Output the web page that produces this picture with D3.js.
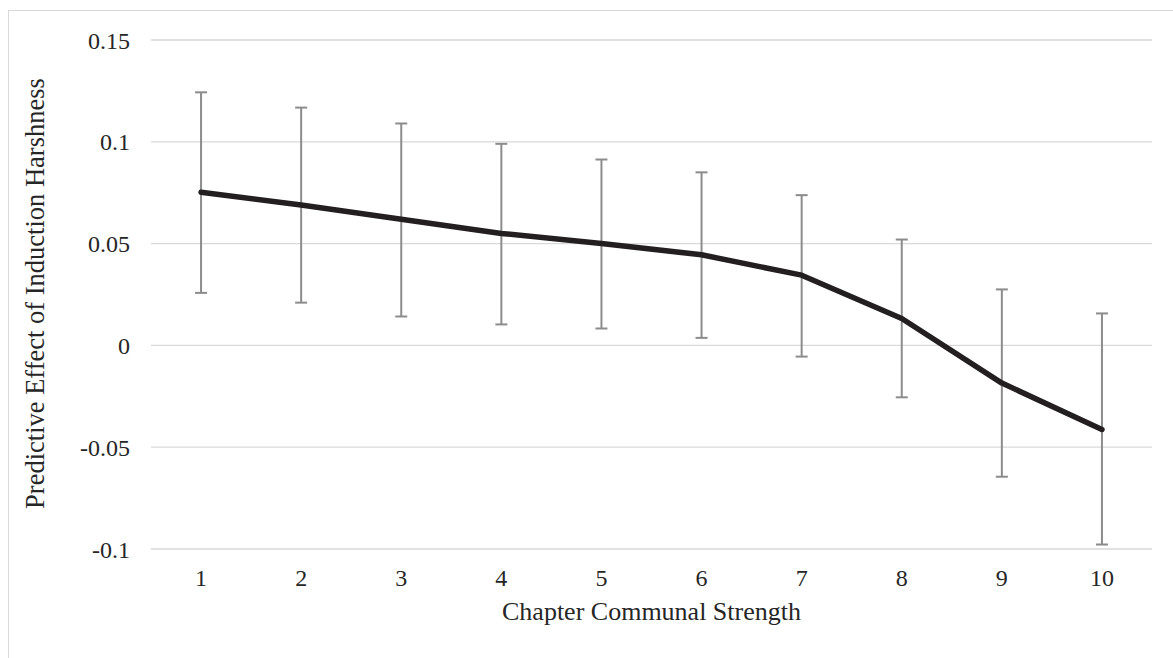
<!DOCTYPE html>
<html>
<head>
<meta charset="utf-8">
<script src="https://cdn.jsdelivr.net/npm/d3@7"></script>
<style>
  body { margin: 0; background: #fff; }
  text { font-family: "Times New Roman", "Liberation Serif", serif; fill: #262626; }
</style>
</head>
<body>
<svg id="chart" width="1173" height="658"></svg>
<script>
// chapter communal strength 1..10
var categories = ["1", "2", "3", "4", "5", "6", "7", "8", "9", "10"];
var effect = [0.0752, 0.0690, 0.0620, 0.0550, 0.0500, 0.0445, 0.0345, 0.0132, -0.0185, -0.0413];
var upper  = [0.1243, 0.1168, 0.1090, 0.0990, 0.0913, 0.0850, 0.0738, 0.0520, 0.0275, 0.0157];
var lower  = [0.0258, 0.0210, 0.0142, 0.0103, 0.0083, 0.0037, -0.0055, -0.0255, -0.0645, -0.0978];
var yTicks = [-0.1, -0.05, 0, 0.05, 0.1, 0.15];
var yTickLabels = ["-0.1", "-0.05", "0", "0.05", "0.1", "0.15"];

var margin = {top: 40, right: 21, bottom: 109, left: 151};
var width = 1173 - margin.left - margin.right,
    height = 658 - margin.top - margin.bottom;

var svg = d3.select("#chart");

// outer chart frame
svg.append("rect")
  .attr("x", 8.5).attr("y", 10.5)
  .attr("width", 1180).attr("height", 700)
  .attr("fill", "none")
  .attr("stroke", "#d9d9d9")
  .attr("stroke-width", 1);

var g = svg.append("g")
  .attr("transform", "translate(" + margin.left + "," + margin.top + ")");

var x = d3.scaleBand().domain(categories).range([0, width]);
var y = d3.scaleLinear().domain([-0.1, 0.15]).range([height, 0]);

//gridlines
g.append("g")
  .selectAll("line")
  .data(yTicks)
  .enter().append("line")
    .attr("x1", 0)
    .attr("x2", width)
    .attr("y1", function(d) { return y(d); })
    .attr("y2", function(d) { return y(d); })
    .attr("stroke", "#d9d9d9")
    .attr("stroke-width", 1.3);

// y axis labels
var yAxis = g.append("g")
  .call(d3.axisLeft(y).tickValues(yTicks).tickSize(0).tickPadding(21)
    .tickFormat(function(d, i) { return yTickLabels[i]; }));
yAxis.select(".domain").remove();
yAxis.attr("font-family", null);
yAxis.selectAll("text")
  .style("font-family", "'Times New Roman', 'Liberation Serif', serif")
  .style("font-size", "24px")
  .attr("fill", "#262626")
  .attr("dy", "0.34em");

// x axis labels
var xAxis = g.append("g")
  .attr("transform", "translate(0," + height + ")")
  .call(d3.axisBottom(x).tickSize(0).tickPadding(20));
xAxis.select(".domain").remove();
xAxis.attr("font-family", null);
xAxis.selectAll("text")
  .style("font-family", "'Times New Roman', 'Liberation Serif', serif")
  .style("font-size", "24px")
  .attr("fill", "#262626");

var cx = function(i) { return x(categories[i]) + x.bandwidth() / 2; };

// error bars
var bars = g.append("g").selectAll("g")
  .data(effect.map(function(d, i) { return {i: i, hi: upper[i], lo: lower[i]}; }))
  .enter().append("g")
    .attr("stroke", "#8c8c8c")
    .attr("stroke-width", 2);

bars.append("line")
  .attr("x1", function(d) { return cx(d.i); })
  .attr("x2", function(d) { return cx(d.i); })
  .attr("y1", function(d) { return y(d.hi); })
  .attr("y2", function(d) { return y(d.lo); });
bars.append("line")
  .attr("x1", function(d) { return cx(d.i) - 6; })
  .attr("x2", function(d) { return cx(d.i) + 6; })
  .attr("y1", function(d) { return y(d.hi); })
  .attr("y2", function(d) { return y(d.hi); });
bars.append("line")
  .attr("x1", function(d) { return cx(d.i) - 6; })
  .attr("x2", function(d) { return cx(d.i) + 6; })
  .attr("y1", function(d) { return y(d.lo); })
  .attr("y2", function(d) { return y(d.lo); });

// main line
var line = d3.line()
  .x(function(d, i) { return cx(i); })
  .y(function(d) { return y(d); });

g.append("path")
  .datum(effect)
  .attr("d", line)
  .attr("fill", "none")
  .attr("stroke", "#231f20")
  .attr("stroke-width", 5.5)
  .attr("stroke-linejoin", "round")
  .attr("stroke-linecap", "round");

//Labels
svg.append("text")
  .attr("transform", "translate(44," + (margin.top + height / 2 - 1) + ") rotate(-90)")
  .style("text-anchor", "middle")
  .style("font-size", "26.5px")
  .text("Predictive Effect of Induction Harshness");

svg.append("text")
  .attr("x", margin.left + width / 2)
  .attr("y", 620)
  .style("text-anchor", "middle")
  .style("font-size", "26px")
  .text("Chapter Communal Strength");
</script>
</body>
</html>
